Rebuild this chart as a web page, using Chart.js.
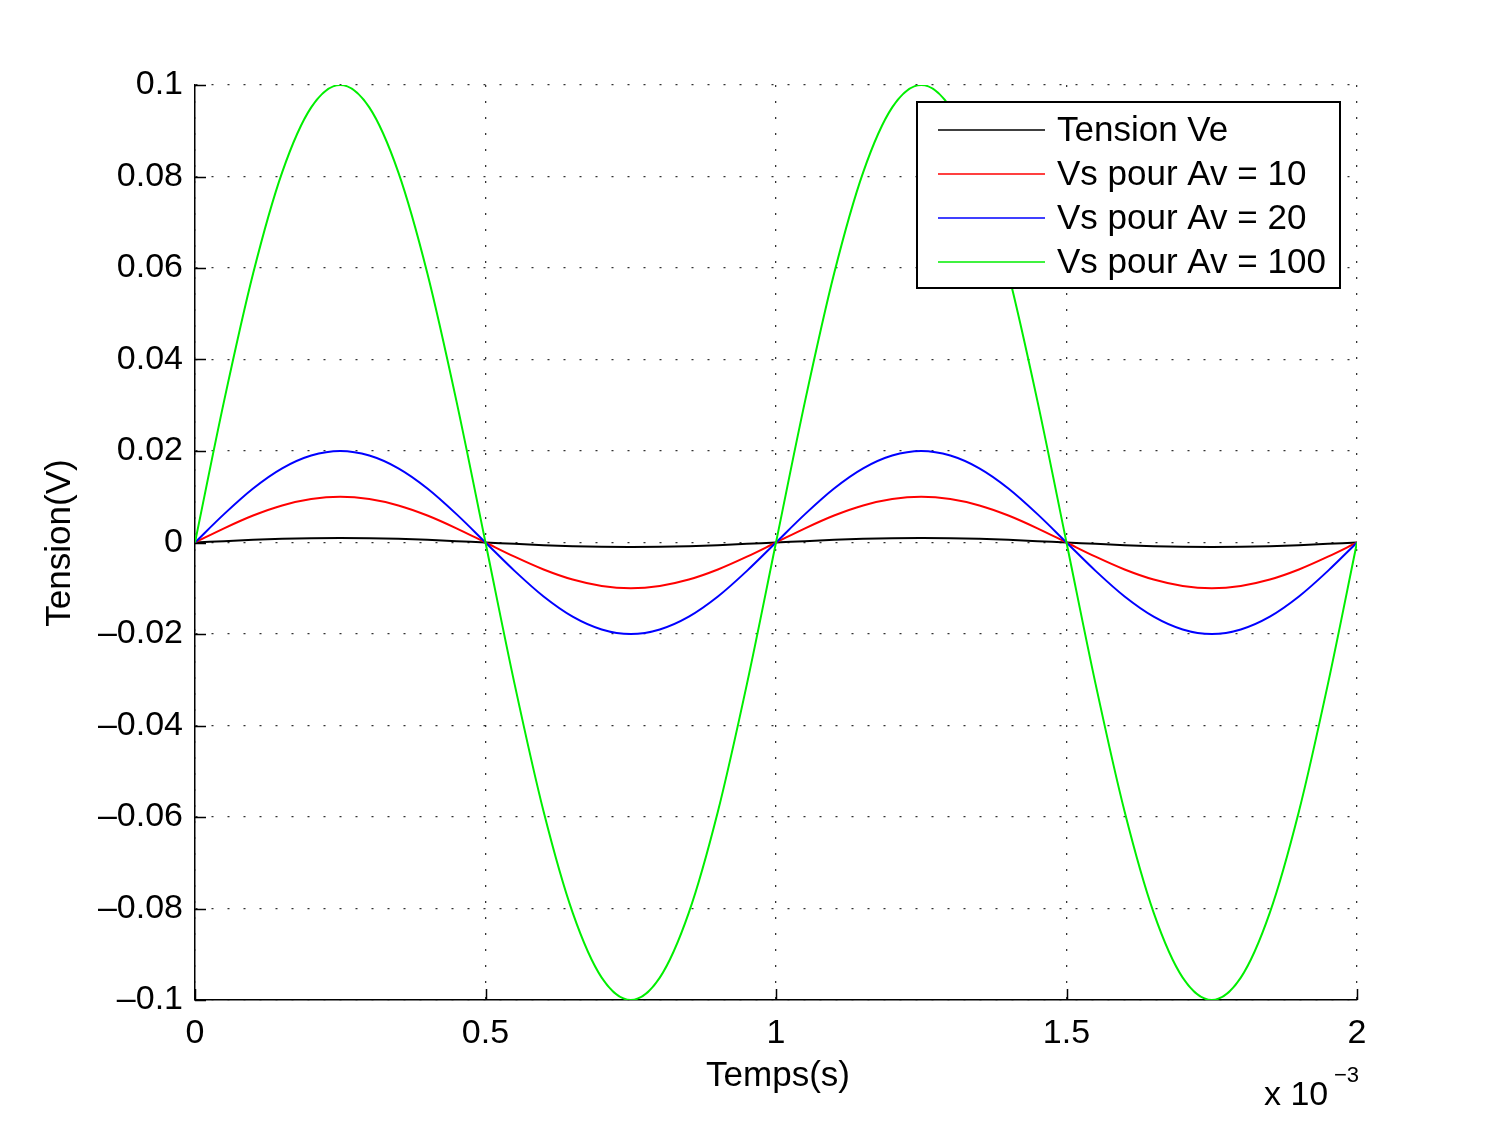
<!DOCTYPE html>
<html lang="fr">
<head>
  <meta charset="UTF-8">
  <title>Tension Ve / Vs</title>
  <script src="https://cdn.jsdelivr.net/npm/chart.js"></script>
  <style>
    body, html { margin: 0; padding: 0; background: #fff; }
    canvas { display: block; }
  </style>
</head>
<body>
  <canvas id="chart" width="1500" height="1128"></canvas>
  <script>
    // time axis in ms (labels show "x 10^-3" s)
    var tempsMs = [0, 0.05, 0.1, 0.15, 0.2, 0.25, 0.3, 0.35, 0.4, 0.45,
                   0.5, 0.55, 0.6, 0.65, 0.7, 0.75, 0.8, 0.85, 0.9, 0.95,
                   1, 1.05, 1.1, 1.15, 1.2, 1.25, 1.3, 1.35, 1.4, 1.45,
                   1.5, 1.55, 1.6, 1.65, 1.7, 1.75, 1.8, 1.85, 1.9, 1.95, 2];

    var tensionVe = [0, 0.0003, 0.0006, 0.0008, 0.00095, 0.001, 0.00095, 0.0008, 0.0006, 0.0003,
                     0, -0.0003, -0.0006, -0.0008, -0.00095, -0.001, -0.00095, -0.0008, -0.0006, -0.0003,
                     0, 0.0003, 0.0006, 0.0008, 0.00095, 0.001, 0.00095, 0.0008, 0.0006, 0.0003,
                     0, -0.0003, -0.0006, -0.0008, -0.00095, -0.001, -0.00095, -0.0008, -0.0006, -0.0003, 0];

    var vsAv10 = [0, 0.0031, 0.0059, 0.0081, 0.0095, 0.01, 0.0095, 0.0081, 0.0059, 0.0031,
                  0, -0.0031, -0.0059, -0.0081, -0.0095, -0.01, -0.0095, -0.0081, -0.0059, -0.0031,
                  0, 0.0031, 0.0059, 0.0081, 0.0095, 0.01, 0.0095, 0.0081, 0.0059, 0.0031,
                  0, -0.0031, -0.0059, -0.0081, -0.0095, -0.01, -0.0095, -0.0081, -0.0059, -0.0031, 0];

    var vsAv20 = [0, 0.0062, 0.0118, 0.0162, 0.019, 0.02, 0.019, 0.0162, 0.0118, 0.0062,
                  0, -0.0062, -0.0118, -0.0162, -0.019, -0.02, -0.019, -0.0162, -0.0118, -0.0062,
                  0, 0.0062, 0.0118, 0.0162, 0.019, 0.02, 0.019, 0.0162, 0.0118, 0.0062,
                  0, -0.0062, -0.0118, -0.0162, -0.019, -0.02, -0.019, -0.0162, -0.0118, -0.0062, 0];

    var vsAv100 = [0, 0.0309, 0.0588, 0.0809, 0.0951, 0.1, 0.0951, 0.0809, 0.0588, 0.0309,
                   0, -0.0309, -0.0588, -0.0809, -0.0951, -0.1, -0.0951, -0.0809, -0.0588, -0.0309,
                   0, 0.0309, 0.0588, 0.0809, 0.0951, 0.1, 0.0951, 0.0809, 0.0588, 0.0309,
                   0, -0.0309, -0.0588, -0.0809, -0.0951, -0.1, -0.0951, -0.0809, -0.0588, -0.0309, 0];

    var seriesLabels = ['Tension Ve', 'Vs pour Av = 10', 'Vs pour Av = 20', 'Vs pour Av = 100'];

    var xTicks = [0, 0.5, 1, 1.5, 2];
    var xTickLabels = ['0', '0.5', '1', '1.5', '2'];
    var yTicks = [0.1, 0.08, 0.06, 0.04, 0.02, 0, -0.02, -0.04, -0.06, -0.08, -0.1];
    var yTickLabels = ['0.1', '0.08', '0.06', '0.04', '0.02', '0',
                       '\u20130.02', '\u20130.04', '\u20130.06', '\u20130.08', '\u20130.1'];

    var FONT = '"Liberation Sans", Arial, Helvetica, sans-serif';

    function toPoints(values) {
      return values.map(function(v, i) { return { x: tempsMs[i], y: v }; });
    }

    function makeSet(label, values, color, order) {
      return {
        label: label,
        data: toPoints(values),
        borderColor: color,
        backgroundColor: color,
        borderWidth: 2,
        pointRadius: 0,
        fill: false,
        cubicInterpolationMode: 'monotone',
        order: order
      };
    }

    // inward tick marks, axis titles, exponent and the boxed legend (MATLAB look)
    var matlabBits = {
      id: 'matlabBits',
      afterDatasetsDraw: function(chart) {
        var ctx = chart.ctx;
        var area = chart.chartArea;
        var xs = chart.scales.x, ys = chart.scales.y;
        ctx.save();

        // tick marks pointing into the plot
        ctx.strokeStyle = '#000';
        ctx.lineWidth = 1.5;
        ctx.beginPath();
        yTicks.forEach(function(v) {
          var py = Math.round(ys.getPixelForValue(v)) + 0.5;
          ctx.moveTo(area.left, py);
          ctx.lineTo(area.left + 11, py);
        });
        xTicks.forEach(function(v) {
          var px = Math.round(xs.getPixelForValue(v)) + 0.5;
          ctx.moveTo(px, area.bottom);
          ctx.lineTo(px, area.bottom - 11);
        });
        ctx.stroke();

        // legend
        var lx = 917, ly = 102, lw = 423, lh = 186;
        ctx.fillStyle = '#fff';
        ctx.fillRect(lx, ly, lw, lh);
        ctx.lineWidth = 2;
        ctx.strokeStyle = '#000';
        ctx.strokeRect(lx, ly, lw, lh);
        ctx.font = '35px ' + FONT;
        ctx.textBaseline = 'middle';
        ctx.textAlign = 'left';
        var sets = chart.data.datasets;
        sets.forEach(function(ds, i) {
          var ry = 130 + i * 44;
          ctx.strokeStyle = ds.borderColor;
          ctx.lineWidth = 1.5;
          ctx.beginPath();
          ctx.moveTo(938, ry);
          ctx.lineTo(1045, ry);
          ctx.stroke();
          ctx.fillStyle = '#000';
          ctx.fillText(ds.label, 1057, ry + 1);
        });

        // axis titles
        ctx.fillStyle = '#000';
        ctx.font = '35px ' + FONT;
        ctx.textAlign = 'center';
        ctx.fillText('Temps(s)', 778, 1076);
        ctx.save();
        ctx.translate(60, 543);
        ctx.rotate(-Math.PI / 2);
        ctx.fillText('Tension(V)', 0, 0);
        ctx.restore();

        // exponent
        ctx.textAlign = 'left';
        ctx.textBaseline = 'alphabetic';
        ctx.font = '34px ' + FONT;
        ctx.fillText('x 10', 1264, 1105);
        ctx.font = '22px ' + FONT;
        ctx.fillText('\u22123', 1334, 1082);

        ctx.restore();
      }
    };

    var ctx = document.getElementById('chart').getContext('2d');
    var chart = new Chart(ctx, {
      type: 'line',
      data: {
        datasets: [
          makeSet(seriesLabels[0], tensionVe, '#000000', 3),
          makeSet(seriesLabels[1], vsAv10, '#ff0000', 2),
          makeSet(seriesLabels[2], vsAv20, '#0000ff', 1),
          makeSet(seriesLabels[3], vsAv100, '#00ee00', 0)
        ]
      },
      options: {
        responsive: false,
        animation: false,
        devicePixelRatio: 1,
        layout: { autoPadding: false, padding: { top: 85, right: 143, left: 0, bottom: 0 } },
        plugins: {
          legend: { display: false },
          tooltip: { enabled: false }
        },
        scales: {
          x: {
            type: 'linear',
            min: 0,
            max: 2,
            afterFit: function(s) { s.height = 128; },
            afterBuildTicks: function(s) { s.ticks = xTicks.map(function(v) { return { value: v }; }); },
            ticks: {
              padding: 13,
              maxRotation: 0,
              color: '#000',
              font: { family: FONT, size: 34 },
              callback: function(v) { return xTickLabels[xTicks.indexOf(v)]; }
            },
            grid: {
              drawTicks: false,
              color: '#333',
              lineWidth: 1.3
            },
            border: { display: true, color: '#000', width: 1.5, dash: [2, 14] }
          },
          y: {
            type: 'linear',
            min: -0.1,
            max: 0.1,
            afterFit: function(s) { s.width = 195; },
            afterBuildTicks: function(s) { s.ticks = yTicks.map(function(v) { return { value: v }; }); },
            ticks: {
              padding: 12,
              color: '#000',
              font: { family: FONT, size: 34 },
              callback: function(v) { return yTickLabels[yTicks.indexOf(v)]; }
            },
            grid: {
              drawTicks: false,
              color: '#333',
              lineWidth: 1.3
            },
            border: { display: true, color: '#000', width: 1.5, dash: [2, 14] }
          }
        }
      },
      plugins: [matlabBits]
    });
  </script>
</body>
</html>
